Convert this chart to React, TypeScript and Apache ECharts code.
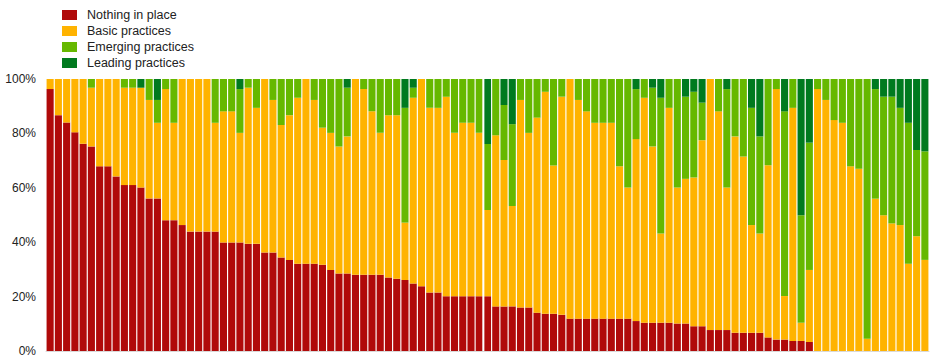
import React, { useEffect, useRef } from "react";
import * as echarts from "echarts";

const seriesNames = ["Nothing in place", "Basic practices", "Emerging practices", "Leading practices"];
const colors = ["#B00A0A", "#FFB300", "#66B800", "#007A1F"];
const yTicks = [0, 20, 40, 60, 80, 100];

const nothingInPlace = [
  96.3, 86.7, 84.0, 80.4, 76.2, 75.2, 67.9, 67.9, 64.2, 61.0,
  61.0, 60.1, 56.1, 56.1, 48.1, 48.1, 46.3, 43.9, 43.9, 43.9,
  43.9, 39.9, 39.9, 39.9, 39.4, 39.4, 36.2, 36.2, 34.4, 33.5,
  32.1, 32.1, 32.1, 31.7, 29.8, 28.5, 28.5, 28.0, 28.0, 28.0,
  28.0, 27.0, 26.6, 26.1, 24.8, 23.8, 21.5, 21.5, 20.1, 20.1,
  20.1, 20.1, 20.1, 20.1, 16.4, 16.4, 16.4, 16.0, 16.0, 14.1,
  13.7, 13.7, 13.3, 11.9, 11.9, 11.9, 11.9, 11.9, 11.9, 11.9,
  11.9, 11.0, 10.4, 10.4, 10.4, 10.4, 10.1, 10.1, 9.1, 9.1,
  7.7, 7.7, 7.7, 6.7, 6.7, 6.7, 6.7, 5.0, 4.2, 4.2,
  3.7, 3.7, 3.3, 0, 0, 0, 0, 0, 0, 0,
  0, 0, 0, 0, 0, 0, 0,
];
const basicPractices = [
  3.7, 13.3, 16.0, 19.6, 23.8, 21.6, 32.1, 32.1, 35.8, 35.8,
  35.8, 36.7, 36.2, 27.8, 48.2, 35.8, 53.7, 56.1, 56.1, 56.1,
  40.0, 48.2, 48.2, 40.3, 57.4, 50.0, 63.8, 56.1, 48.7, 53.2,
  61.0, 67.9, 60.2, 50.4, 50.4, 46.7, 50.4, 72.0, 68.3, 60.1,
  52.2, 59.7, 60.1, 21.1, 68.3, 76.2, 67.9, 67.9, 73.4, 60.1,
  63.8, 63.8, 60.1, 31.7, 62.9, 53.8, 36.9, 76.3, 64.2, 71.7,
  81.6, 54.5, 80.2, 88.1, 80.4, 76.2, 72.0, 72.0, 72.0, 56.0,
  48.2, 66.9, 82.7, 64.8, 32.8, 79.0, 50.0, 53.2, 54.7, 68.4,
  92.3, 80.4, 52.4, 72.2, 64.8, 39.6, 36.5, 63.3, 92.1, 16.0,
  85.7, 6.7, 26.5, 96.3, 92.3, 84.9, 83.9, 67.9, 67.0, 4.5,
  56.0, 49.9, 46.9, 46.3, 32.1, 42.2, 33.5,
];
const emergingPractices = [
  0, 0, 0, 0, 0, 3.2, 0, 0, 0, 3.2,
  3.2, 0, 7.7, 8.4, 3.7, 16.1, 0, 0, 0, 0,
  16.1, 11.9, 11.9, 16.1, 3.2, 10.6, 0, 7.7, 16.9, 13.3,
  6.9, 0, 7.7, 17.9, 19.8, 24.8, 17.9, 0, 3.7, 11.9,
  19.8, 13.3, 13.3, 42.2, 3.7, 0, 10.6, 10.6, 6.5, 19.8,
  16.1, 16.1, 19.8, 24.3, 20.7, 20.2, 30.1, 7.7, 19.8, 14.2,
  4.7, 31.8, 6.5, 0, 7.7, 11.9, 16.1, 16.1, 16.1, 32.1,
  39.9, 18.4, 6.9, 21.6, 49.9, 10.6, 39.9, 30.2, 31.5, 13.8,
  0, 11.9, 36.2, 21.1, 28.5, 43.1, 35.7, 31.7, 3.7, 67.9,
  10.6, 39.5, 46.8, 3.7, 7.7, 15.1, 16.1, 32.1, 33.0, 95.5,
  40.3, 43.6, 46.6, 43.1, 51.8, 31.7, 39.9,
];
const leadingPractices = [
  0, 0, 0, 0, 0, 0, 0, 0, 0, 0,
  0, 3.2, 0, 7.7, 0, 0, 0, 0, 0, 0,
  0, 0, 0, 3.7, 0, 0, 0, 0, 0, 0,
  0, 0, 0, 0, 0, 0, 3.2, 0, 0, 0,
  0, 0, 0, 10.6, 3.2, 0, 0, 0, 0, 0,
  0, 0, 0, 23.9, 0, 9.6, 16.6, 0, 0, 0,
  0, 0, 0, 0, 0, 0, 0, 0, 0, 0,
  0, 3.7, 0, 3.2, 6.9, 0, 0, 6.5, 4.7, 8.7,
  0, 0, 3.7, 0, 0, 10.6, 21.1, 0, 0, 11.9,
  0, 50.1, 23.4, 0, 0, 0, 0, 0, 0, 0,
  3.7, 6.5, 6.5, 10.6, 16.1, 26.1, 26.6,
];
const categories = nothingInPlace.map((_, i) => `Institution ${i + 1}`);
const separatorAfterIndex = 52;

export default function App() {
  const ref = useRef<HTMLDivElement>(null);
  useEffect(() => {
    if (!ref.current) return;
    const chart = echarts.init(ref.current, null, { renderer: "svg" });
    const dataSets = [nothingInPlace, basicPractices, emergingPractices, leadingPractices];
    chart.setOption({
      animation: false,
      backgroundColor: "#ffffff",
      textStyle: { fontFamily: "Liberation Sans, Arial, sans-serif" },
      legend: {
        orient: "vertical",
        left: 57,
        top: 3,
        itemWidth: 15,
        itemHeight: 10,
        itemGap: 2,
        icon: "rect",
        selectedMode: false,
        textStyle: {
          fontSize: 12.5,
          color: "#222",
          padding: [0, 0, 0, 5],
          lineHeight: 14,
        },
        data: seriesNames,
      },
      grid: { left: 46, right: 14, top: 79, bottom: 9, containLabel: false },
      xAxis: {
        type: "category",
        data: categories,
        axisLabel: { show: false },
        axisTick: { show: false },
        axisLine: { show: true, lineStyle: { color: "#d9d9d9", width: 1 } },
      },
      yAxis: {
        type: "value",
        min: 0,
        max: 100,
        interval: 20,
        splitLine: { show: false },
        axisLine: { show: false },
        axisTick: { show: false },
        axisLabel: {
          formatter: (v: number) => (yTicks.includes(v) ? `${v}%` : ""),
          fontSize: 12,
          color: "#222",
          margin: 10,
        },
      },
      series: seriesNames.map((name, k) => ({
        name,
        type: "bar",
        stack: "total",
        barCategoryGap: "14%",
        itemStyle: { color: colors[k] },
        data: dataSets[k],
      })),
    });
    const p1 = chart.convertToPixel({ gridIndex: 0 }, [separatorAfterIndex, 0]);
    const p2 = chart.convertToPixel({ gridIndex: 0 }, [separatorAfterIndex + 1, 100]);
    if (p1 && p2) {
      const x = (p1[0] + p2[0]) / 2;
      chart.setOption({
        graphic: [
          {
            type: "line",
            shape: { x1: x, y1: p2[1], x2: x, y2: p1[1] },
            style: { stroke: "#ffffff", lineWidth: 2 },
            z: 100,
          },
        ],
      });
    }
    return () => chart.dispose();
  }, []);
  return <div ref={ref} style={{ width: 943, height: 360, position: "absolute", left: 0, top: 0 }} />;
}
